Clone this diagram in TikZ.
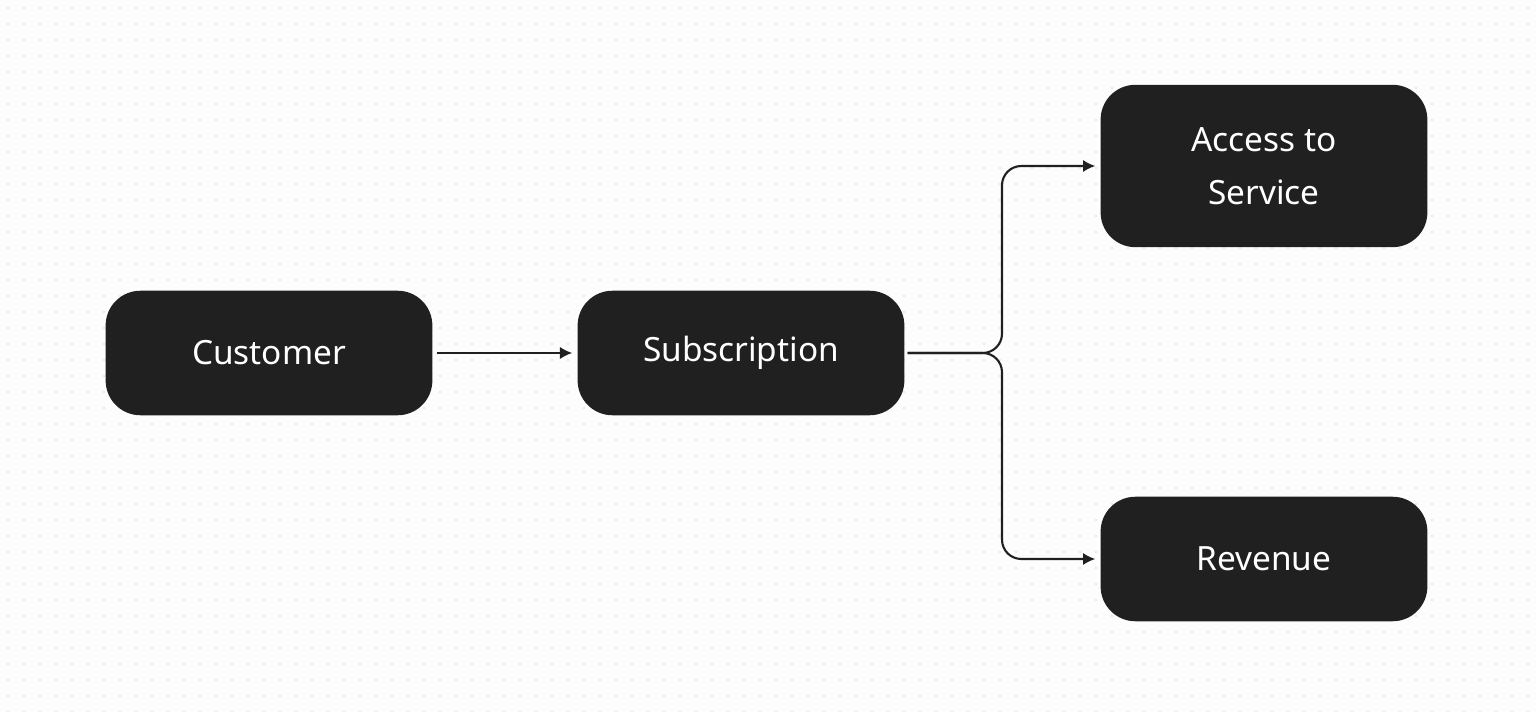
\documentclass[tikz,border=0pt]{standalone}
\usepackage{fontspec}
\setmainfont{Noto Sans}
\usetikzlibrary{arrows.meta}
\definecolor{boxc}{HTML}{202020}
\definecolor{bgc}{HTML}{FDFDFD}
\definecolor{dotc}{HTML}{E4E4E4}
\tikzset{
  box/.style={fill=boxc, rounded corners=19.8pt, text=white, minimum width=328*0.567pt, align=center, font=\fontsize{19}{30}\selectfont},
  conn/.style={draw=boxc, line width=1.2pt, -{Latex[length=7pt,width=7pt]}, rounded corners=11pt}
}
\begin{document}
\begin{tikzpicture}[x=0.02cm,y=-0.02cm]
\fill[bgc] (0,0) rectangle (1536,712);
\useasboundingbox (0,0) rectangle (1536,712);
\foreach \i in {0,...,95}{\foreach \j in {0,...,44}{\fill[dotc] (\i*16+8,\j*16+8) circle (0.6pt);}}
\node[box, minimum height=125*0.567pt] (cu) at (269,353) {Customer};
\node[box, minimum height=125*0.567pt] (su) at (741,353) {Subscription};
\node[box, minimum height=163*0.567pt] (ac) at (1264,166) {Access to\\Service};
\node[box, minimum height=125*0.567pt] (re) at (1264,559) {Revenue};
\coordinate (br) at (1002,353);
\draw[conn] ([xshift=4*0.567pt]cu.east) -- ([xshift=-5*0.567pt]su.west);
\draw[conn] ([xshift=3*0.567pt]su.east) -- (br) |- ([xshift=-5*0.567pt]ac.west);
\draw[conn] ([xshift=3*0.567pt]su.east) -- (br) |- ([xshift=-5*0.567pt]re.west);
\end{tikzpicture}
\end{document}
